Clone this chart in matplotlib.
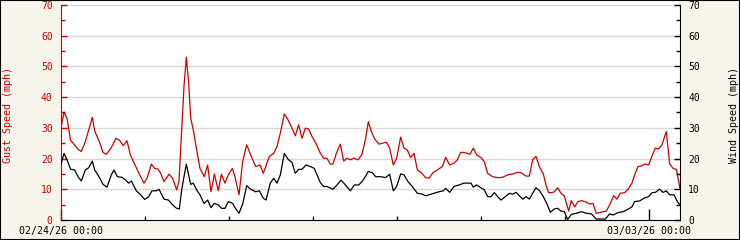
import matplotlib
matplotlib.use("Agg")
import matplotlib.pyplot as plt
from matplotlib.patches import Rectangle

# hours since 02/24/26 00:00
gust_hours = [0.0, 0.86, 1.71, 2.76, 3.71, 4.86, 5.81, 6.95, 7.90, 8.95, 9.62, 10.95, 12.0, 12.95,
              14.38, 15.71, 16.76, 17.81, 18.86, 19.81, 21.05, 22.48, 23.71, 24.67, 25.81, 26.76,
              27.71, 28.48, 29.43, 30.86, 31.90, 33.05, 33.71, 34.48, 35.14, 35.81, 36.48, 37.05,
              37.81, 38.76, 39.71, 40.95, 41.90, 42.86, 43.81, 44.95, 45.81, 46.86, 47.81, 48.95,
              49.71, 50.86, 51.90, 53.05, 54.19, 55.62, 56.86, 57.81, 58.57, 59.52, 60.76, 61.71,
              62.67, 63.81, 64.86, 65.81, 66.95, 67.90, 68.86, 69.81, 70.76, 71.71, 72.95, 74.10,
              75.05, 76.0, 76.95, 77.71, 78.67, 79.81, 80.76, 81.71, 82.67, 83.62, 84.86, 86.0,
              87.05, 87.81, 88.67, 89.62, 90.86, 91.81, 92.95, 93.90, 94.95, 95.90, 97.05, 98.0,
              98.95, 99.90, 100.86, 101.81, 102.95, 104.19, 105.14, 106.29, 107.52, 108.95, 109.90,
              111.05, 112.29, 113.24, 114.19, 115.14, 116.86, 117.81, 118.76, 120.0, 120.95, 121.90,
              123.33, 124.76, 126.19, 127.62, 129.05, 130.48, 131.43, 132.86, 133.81, 134.76, 135.71,
              136.67, 137.81, 138.57, 139.33, 140.29, 140.95, 141.90, 142.86, 143.81, 145.05, 145.81,
              146.76, 147.71, 148.86, 150.10, 151.05, 152.0, 152.95, 153.90, 154.86, 155.81, 156.76,
              157.90, 158.86, 159.81, 161.05, 162.0, 163.14, 163.90, 164.86, 165.81, 166.76, 167.90,
              168.86, 169.81, 170.76, 171.71, 172.95, 173.90, 174.86, 175.81, 176.57, 176.86]
gust_mph = [30.0, 35.1, 33.1, 25.9, 24.7, 23.0, 22.3, 25.5, 29.3, 33.4, 29.0, 25.5, 22.0, 21.4,
            23.6, 26.6, 25.9, 24.2, 25.8, 21.2, 18.2, 14.7, 12.0, 13.8, 18.2, 16.8,
            16.6, 15.2, 12.5, 14.9, 13.6, 9.8, 12.7, 29.3, 43.5, 53.0, 44.6, 33.2,
            29.3, 22.8, 16.8, 14.1, 17.9, 9.2, 15.0, 9.6, 14.9, 12.0, 14.7, 16.8,
            14.1, 8.2, 19.0, 24.5, 21.2, 17.4, 17.9, 15.2, 17.6, 20.7, 21.7, 23.9,
            28.3, 34.5, 32.6, 30.4, 27.4, 31.0, 26.6, 29.9, 29.6, 27.2, 24.7, 21.7,
            20.1, 20.1, 18.2, 18.2, 21.7, 24.7, 19.2, 20.1, 19.6, 20.1, 19.6, 21.4,
            26.6, 32.0, 28.8, 26.4, 24.7, 25.0, 25.3, 23.4, 17.9, 20.1, 27.0, 23.4,
            22.8, 20.3, 21.7, 16.3, 15.4, 13.8, 13.6, 15.4, 16.3, 17.4, 20.4,
            17.9, 18.5, 19.6, 22.0, 22.0, 21.4, 23.4, 21.2, 20.3, 19.0, 15.2,
            14.1, 13.8, 13.9, 14.7, 15.0, 15.5, 15.4, 14.3, 14.3, 19.6, 20.7,
            17.4, 15.0, 11.4, 8.9, 8.9, 9.2, 10.5, 8.7, 7.8, 2.9, 6.3,
            4.3, 6.0, 6.3, 5.8, 5.2, 5.4, 2.2, 2.4, 2.7, 2.9, 4.9,
            7.9, 6.8, 8.7, 8.9, 10.0, 12.0, 14.7, 17.4, 17.6, 18.2, 17.9,
            20.8, 23.4, 23.1, 24.5, 28.8, 18.3, 16.8, 16.5, 12.0, 10.0]

wind_hours = [0.0, 0.86, 1.71, 2.76, 3.90, 4.86, 5.81, 6.95, 7.90, 8.95, 9.62, 10.76, 12.0, 13.14,
              14.38, 15.14, 16.10, 17.43, 18.48, 19.33, 20.10, 21.52, 22.76, 23.90, 25.05, 26.0,
              27.24, 28.0, 29.43, 30.67, 31.90, 33.05, 33.81, 34.48, 35.14, 35.81, 36.48, 37.05,
              37.81, 38.76, 39.71, 40.86, 41.90, 42.86, 43.81, 44.95, 45.90, 46.86, 47.81, 49.05,
              49.71, 50.86, 51.90, 53.05, 54.19, 55.62, 56.67, 57.81, 58.57, 59.81, 60.76, 61.71,
              62.67, 63.81, 64.86, 66.0, 66.95, 67.90, 68.86, 70.0, 71.24, 72.38, 73.14, 74.10,
              75.05, 76.0, 77.71, 78.86, 80.0, 81.05, 82.67, 83.81, 85.05, 86.0, 86.95, 87.81,
              88.95, 89.90, 91.33, 92.76, 93.90, 94.95, 95.90, 97.05, 98.0, 99.14, 100.38, 101.81,
              102.95, 104.19, 105.14, 106.57, 108.0, 109.24, 109.90, 111.05, 112.29, 113.71, 115.14,
              116.86, 117.14, 117.81, 118.76, 120.0, 120.95, 121.90, 122.86, 123.81, 124.76, 125.71,
              126.95, 128.10, 129.05, 130.0, 130.95, 131.90, 132.86, 133.81, 134.76, 135.71, 136.67,
              137.81, 138.86, 139.81, 140.95, 141.90, 142.86, 143.81, 144.76, 145.81, 147.24,
              148.67, 150.10, 151.52, 152.95, 154.38, 155.52, 156.76, 157.71, 159.14, 160.57, 162.0,
              163.14, 163.90, 165.33, 166.57, 167.90, 168.86, 169.81, 171.05, 172.0, 172.95, 173.90,
              175.14, 176.10, 176.86]
wind_mph = [18.2, 21.7, 19.6, 16.5, 16.3, 14.1, 12.7, 16.3, 17.0, 19.2, 16.3, 14.3, 11.6, 10.7,
            14.7, 16.3, 14.1, 13.9, 13.0, 12.0, 12.7, 9.5, 8.2, 6.7, 7.6, 9.5,
            9.5, 10.0, 6.8, 6.5, 4.9, 3.8, 3.6, 9.8, 14.1, 18.2, 14.7, 11.6,
            12.0, 9.8, 8.2, 5.4, 6.5, 4.0, 5.4, 4.9, 3.8, 3.8, 6.0, 5.4,
            4.0, 2.2, 5.2, 11.2, 10.0, 9.2, 9.5, 7.1, 6.5, 12.0, 13.6, 12.0,
            14.7, 21.7, 19.8, 18.7, 15.2, 16.5, 16.5, 17.9, 17.4, 16.8, 14.7, 12.2,
            10.9, 10.9, 10.0, 11.4, 13.0, 11.7, 9.5, 11.4, 11.4, 12.5, 14.1, 15.8,
            15.4, 14.1, 14.1, 13.8, 14.9, 9.5, 10.9, 15.0, 14.7, 12.5, 10.9, 8.7,
            8.5, 7.9, 8.2, 8.7, 9.2, 9.5, 10.3, 9.0, 10.9, 11.4, 12.0,
            12.0, 12.0, 10.7, 11.4, 10.5, 9.8, 7.6, 7.6, 8.9, 7.6, 6.5,
            7.6, 8.7, 8.4, 9.0, 7.9, 6.8, 7.6, 6.8, 8.7, 10.5, 9.6,
            7.6, 5.2, 2.5, 3.6, 3.8, 2.9, 2.7, 0.2, 1.8, 2.2,
            2.7, 2.2, 2.0, 0.3, 0.3, 0.3, 2.0, 1.6, 2.4, 2.7, 3.5,
            4.3, 6.0, 6.2, 7.1, 7.6, 8.9, 9.0, 10.0, 9.0, 9.5, 8.2,
            8.2, 6.0, 4.9]

day_ticks = [0, 24, 48, 72, 96, 120, 144, 168]
label_ticks = [0, 168]
label_text = ["02/24/26 00:00", "03/03/26 00:00"]
y_ticks = list(range(0, 71, 10))

red = "#cc0000"
bg = "#f7f5eb"
mono = "DejaVu Sans Mono"

fig = plt.figure(figsize=(7.4, 2.4), dpi=100, facecolor=bg)
fig.patches.append(Rectangle((0, 0), 1, 1, transform=fig.transFigure, fill=False,
                             edgecolor="black", linewidth=1.5))
ax = fig.add_axes([61 / 740, 20 / 240, 619 / 740, 219 / 240])
ax.set_facecolor("white")
ymax = 71.3
ax.set_xlim(0, 176.86)
ax.set_ylim(0, ymax)

for v in y_ticks[1:]:
    ax.axhline(v, color="#d8d8d8", linewidth=1.0, zorder=0)

ax.plot(gust_hours, gust_mph, color=red, linewidth=0.9, zorder=3)

ax2 = ax.twinx()
ax2.set_ylim(0, ymax)
ax2.plot(wind_hours, wind_mph, color="black", linewidth=0.9, zorder=3)

for a in (ax, ax2):
    a.spines["top"].set_visible(False)
ax.spines["right"].set_visible(False)
ax2.spines["left"].set_visible(False)
ax2.spines["bottom"].set_visible(False)
ax.spines["left"].set_color(red)
ax.spines["left"].set_bounds(0, 70)
ax2.spines["right"].set_bounds(0, 70)
ax.spines["bottom"].set_color("black")

ax.set_yticks(y_ticks)
ax.set_yticks(range(5, 70, 10), minor=True)
ax2.set_yticks(y_ticks)
ax2.set_yticks(range(5, 70, 10), minor=True)
ax.tick_params(axis="y", which="both", direction="in", length=4, width=1, colors=red,
               labelsize=7, pad=6)
ax.tick_params(axis="y", which="minor", length=3)
ax2.tick_params(axis="y", which="both", direction="in", length=4, width=1, colors="black",
                labelsize=7, pad=6)
ax2.tick_params(axis="y", which="minor", length=3)
for lab in ax.get_yticklabels() + ax2.get_yticklabels():
    lab.set_family(mono)

ax.set_xticks(label_ticks)
ax.set_xticklabels(label_text, family=mono, fontsize=7.2)
ax.set_xticks(day_ticks, minor=True)
ax.tick_params(axis="x", which="major", direction="in", length=8, width=1, pad=4)
ax.tick_params(axis="x", which="minor", direction="in", length=3, width=1)

fig.text(8 / 740, 1 - 115 / 240, "Gust Speed (mph)", rotation=90, color=red, family=mono,
         fontsize=7.2, ha="center", va="center")
fig.text(734 / 740, 1 - 115 / 240, "Wind Speed (mph)", rotation=90, color="black", family=mono,
         fontsize=7.2, ha="center", va="center")

fig.savefig("out.png", dpi=100, facecolor=bg)
